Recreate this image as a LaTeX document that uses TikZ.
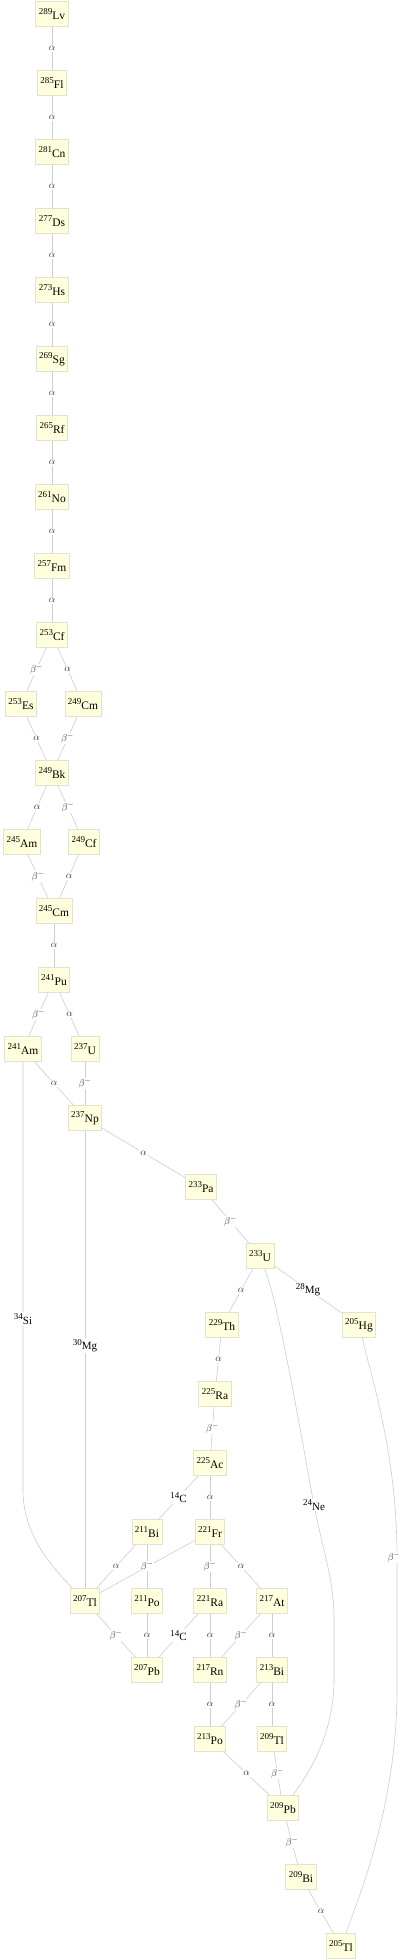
\documentclass[tikz,border=0pt]{standalone}
\usepackage{fontspec}
\setmainfont{Liberation Serif}
\usepackage{tikz}
\definecolor{boxfill}{RGB}{255,255,221}
\definecolor{boxline}{RGB}{226,226,210}
\definecolor{edgegray}{RGB}{205,205,205}
\newcommand{\iso}[2]{\raisebox{0.42em}{\fontsize{9}{9}\selectfont #1}#2}
\tikzset{
	nuc/.style={draw=boxline, fill=boxfill, line width=0.8pt, inner xsep=3pt, minimum height=25pt, font=\fontsize{11.5}{12}\selectfont},
	dec/.style={draw=edgegray, line width=0.6pt},
	lab/.style={fill=white, inner sep=1pt, text=black!80, font=\normalsize},
	clab/.style={fill=white, inner sep=1pt, font=\fontsize{11}{12}\selectfont}
}
\begin{document}
\begin{tikzpicture}[x=1pt, y=-1pt]
	\useasboundingbox (0,0) rectangle (404,1960);
	% superheavy chain
	\node[nuc] (Lv289) at (52,14) {\iso{289}{Lv}};
	\node[nuc] (Fl285) at (52,83) {\iso{285}{Fl}};
	\node[nuc] (Cn281) at (52,152) {\iso{281}{Cn}};
	\node[nuc] (Ds277) at (52,221) {\iso{277}{Ds}};
	\node[nuc] (Hs273) at (52,290) {\iso{273}{Hs}};
	\node[nuc] (Sg269) at (52,359) {\iso{269}{Sg}};
	\node[nuc] (Rf265) at (52,428) {\iso{265}{Rf}};
	\node[nuc] (No261) at (52,497) {\iso{261}{No}};
	\node[nuc] (Fm257) at (52,566) {\iso{257}{Fm}};
	\node[nuc] (Cf253) at (52,635) {\iso{253}{Cf}};
	\node[nuc] (Es253) at (21,704) {\iso{253}{Es}};
	\node[nuc] (Cm249) at (83,704) {\iso{249}{Cm}};
	\node[nuc] (Bk249) at (52,773) {\iso{249}{Bk}};
	\node[nuc] (Am245) at (22,842) {\iso{245}{Am}};
	\node[nuc] (Cf249) at (84,842) {\iso{249}{Cf}};
	\node[nuc] (Cm245) at (54,911) {\iso{245}{Cm}};
	\node[nuc] (Pu241) at (54,980) {\iso{241}{Pu}};
	\node[nuc] (Am241) at (23,1049) {\iso{241}{Am}};
	\node[nuc] (U237) at (85,1049) {\iso{237}{U}};
	\node[nuc] (Np237) at (85,1118) {\iso{237}{Np}};
	\node[nuc] (Pa233) at (201,1187) {\iso{233}{Pa}};
	\node[nuc] (U233) at (260,1256) {\iso{233}{U}};
	\node[nuc] (Th229) at (222,1325) {\iso{229}{Th}};
	\node[nuc] (Hg205) at (359,1325) {\iso{205}{Hg}};
	\node[nuc] (Ra225) at (215,1394) {\iso{225}{Ra}};
	\node[nuc] (Ac225) at (210,1463) {\iso{225}{Ac}};
	\node[nuc] (Bi211) at (147,1532) {\iso{211}{Bi}};
	\node[nuc] (Fr221) at (210,1532) {\iso{221}{Fr}};
	\node[nuc] (Tl207) at (85,1601) {\iso{207}{Tl}};
	\node[nuc] (Po211) at (147,1601) {\iso{211}{Po}};
	\node[nuc] (Ra221) at (210,1601) {\iso{221}{Ra}};
	\node[nuc] (At217) at (272,1601) {\iso{217}{At}};
	\node[nuc] (Pb207) at (147,1670) {\iso{207}{Pb}};
	\node[nuc] (Rn217) at (210,1670) {\iso{217}{Rn}};
	\node[nuc] (Bi213) at (272,1670) {\iso{213}{Bi}};
	\node[nuc] (Po213) at (210,1739) {\iso{213}{Po}};
	\node[nuc] (Tl209) at (272,1739) {\iso{209}{Tl}};
	\node[nuc] (Pb209) at (283,1808) {\iso{209}{Pb}};
	\node[nuc] (Bi209) at (301,1877) {\iso{209}{Bi}};
	\node[nuc] (Tl205) at (341,1946) {\iso{205}{Tl}};

	\draw[dec] (Lv289) -- node[lab]{$\alpha$} (Fl285);
	\draw[dec] (Fl285) -- node[lab]{$\alpha$} (Cn281);
	\draw[dec] (Cn281) -- node[lab]{$\alpha$} (Ds277);
	\draw[dec] (Ds277) -- node[lab]{$\alpha$} (Hs273);
	\draw[dec] (Hs273) -- node[lab]{$\alpha$} (Sg269);
	\draw[dec] (Sg269) -- node[lab]{$\alpha$} (Rf265);
	\draw[dec] (Rf265) -- node[lab]{$\alpha$} (No261);
	\draw[dec] (No261) -- node[lab]{$\alpha$} (Fm257);
	\draw[dec] (Fm257) -- node[lab]{$\alpha$} (Cf253);
	\draw[dec] (Cf253) -- node[lab]{$\beta^-$} (Es253);
	\draw[dec] (Cf253) -- node[lab]{$\alpha$} (Cm249);
	\draw[dec] (Es253) -- node[lab]{$\alpha$} (Bk249);
	\draw[dec] (Cm249) -- node[lab]{$\beta^-$} (Bk249);
	\draw[dec] (Bk249) -- node[lab]{$\alpha$} (Am245);
	\draw[dec] (Bk249) -- node[lab]{$\beta^-$} (Cf249);
	\draw[dec] (Am245) -- node[lab]{$\beta^-$} (Cm245);
	\draw[dec] (Cf249) -- node[lab]{$\alpha$} (Cm245);
	\draw[dec] (Cm245) -- node[lab]{$\alpha$} (Pu241);
	\draw[dec] (Pu241) -- node[lab]{$\beta^-$} (Am241);
	\draw[dec] (Pu241) -- node[lab]{$\alpha$} (U237);
	\draw[dec] (Am241) -- node[lab]{$\alpha$} (Np237);
	\draw[dec] (U237) -- node[lab]{$\beta^-$} (Np237);
	\draw[dec] (Np237) -- node[lab]{$\alpha$} (Pa233);
	\draw[dec] (Pa233) -- node[lab]{$\beta^-$} (U233);
	% cluster decays
	\draw[dec] (Am241) -- node[clab, pos=0.6]{\iso{34}{Si}} (23,1490) .. controls (23,1530) and (45,1560) .. (Tl207);
	\draw[dec] (Np237) -- node[clab, pos=0.47]{\iso{30}{Mg}} (Tl207);
	\draw[dec] (U233) -- node[clab]{\iso{28}{Mg}} (Hg205);
	\draw[dec] (U233) .. controls (280,1310) and (300,1430) .. (314,1505) node[clab]{\iso{24}{Ne}}
		.. controls (324,1555) and (334,1580) .. (334,1620) -- (334,1680)
		.. controls (334,1730) and (312,1770) .. (Pb209);
	\draw[dec] (Hg205) .. controls (375,1390) and (397,1460) .. (397,1557) node[lab, xshift=-3pt]{$\beta^-$}
		-- (397,1690) .. controls (397,1800) and (362,1890) .. (Tl205);
	\draw[dec] (U233) -- node[lab]{$\alpha$} (Th229);
	\draw[dec] (Th229) -- node[lab]{$\alpha$} (Ra225);
	\draw[dec] (Ra225) -- node[lab]{$\beta^-$} (Ac225);
	\draw[dec] (Ac225) -- node[clab]{\iso{14}{C}} (Bi211);
	\draw[dec] (Ac225) -- node[lab]{$\alpha$} (Fr221);
	\draw[dec] (Fr221) -- (Tl207);
	\draw[dec] (Bi211) -- node[lab]{$\alpha$} (Tl207);
	\draw[dec] (Bi211) -- node[lab]{$\beta^-$} (Po211);
	\draw[dec] (Fr221) -- node[lab]{$\beta^-$} (Ra221);
	\draw[dec] (Fr221) -- node[lab]{$\alpha$} (At217);
	\draw[dec] (Tl207) -- node[lab]{$\beta^-$} (Pb207);
	\draw[dec] (Po211) -- node[lab]{$\alpha$} (Pb207);
	\draw[dec] (Ra221) -- node[clab]{\iso{14}{C}} (Pb207);
	\draw[dec] (Ra221) -- node[lab]{$\alpha$} (Rn217);
	\draw[dec] (At217) -- node[lab]{$\beta^-$} (Rn217);
	\draw[dec] (At217) -- node[lab]{$\alpha$} (Bi213);
	\draw[dec] (Rn217) -- node[lab]{$\alpha$} (Po213);
	\draw[dec] (Bi213) -- node[lab]{$\beta^-$} (Po213);
	\draw[dec] (Bi213) -- node[lab]{$\alpha$} (Tl209);
	\draw[dec] (Po213) -- node[lab]{$\alpha$} (Pb209);
	\draw[dec] (Tl209) -- node[lab]{$\beta^-$} (Pb209);
	\draw[dec] (Pb209) -- node[lab]{$\beta^-$} (Bi209);
	\draw[dec] (Bi209) -- node[lab]{$\alpha$} (Tl205);
\end{tikzpicture}
\end{document}
